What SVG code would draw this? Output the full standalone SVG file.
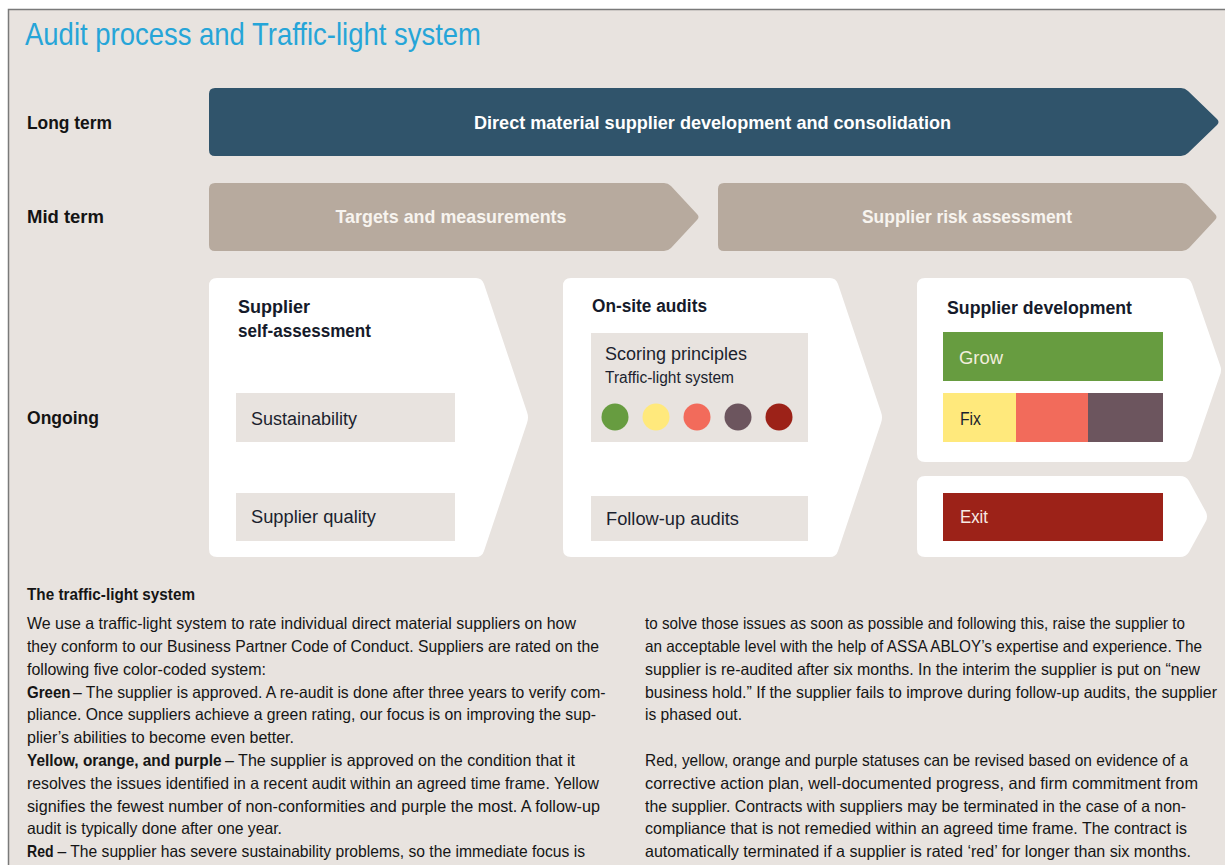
<svg xmlns="http://www.w3.org/2000/svg" width="1225" height="865" viewBox="0 0 1225 865">
  <style>
    text { font-family: "Liberation Sans", Arial, sans-serif; }
    .title { font-size: 32px; fill: #26a5d8; }
    .row { font-size: 18px; font-weight: bold; fill: #141414; }
    .bar { font-size: 19px; font-weight: bold; fill: #ffffff; text-anchor: middle; }
    .midbar { font-size: 19px; font-weight: bold; fill: #f7f4ef; text-anchor: middle; }
    .head { font-size: 18px; font-weight: bold; fill: #151a2a; }
    .item { font-size: 18px; fill: #1b1f2e; }
    .small { font-size: 16px; fill: #1b1f2e; }
    .body { font-size: 16.5px; fill: #151515; }
    .bodyb { font-size: 16.5px; font-weight: bold; fill: #151515; }
    .panel { fill: #ffffff; }
    .cell { fill: #e8e3df; }
  </style>

  <!-- page frame -->
  <rect x="0" y="0" width="1225" height="865" fill="#ffffff"/>
  <rect x="8.5" y="9.5" width="1230" height="870" fill="#e8e3df" stroke="#7a7a7a" stroke-width="1.5"/>

  <text id="title" class="title" x="25" y="45" textLength="456" lengthAdjust="spacingAndGlyphs">Audit process and Traffic-light system</text>

  <!-- row labels -->
  <g id="row-labels">
    <text class="row" x="27" y="129" textLength="85" lengthAdjust="spacingAndGlyphs">Long term</text>
    <text class="row" x="27" y="223" textLength="77" lengthAdjust="spacingAndGlyphs">Mid term</text>
    <text class="row" x="27" y="424" textLength="72" lengthAdjust="spacingAndGlyphs">Ongoing</text>
  </g>

  <!-- long term -->
  <g id="long-term">
    <path d="M215,88 L1181,88 Q1185,88 1188,91 L1217,119 Q1220,122 1217,125 L1188,153 Q1185,156 1181,156 L215,156 Q209,156 209,150 L209,94 Q209,88 215,88 Z" fill="#30546b"/>
    <text class="bar" x="712.5" y="129" textLength="477" lengthAdjust="spacingAndGlyphs">Direct material supplier development and consolidation</text>
  </g>

  <!-- mid term -->
  <g id="targets">
    <path d="M215,183 L664,183 Q668,183 671,186 L697,214 Q700,217 697,220 L671,248 Q668,251 664,251 L215,251 Q209,251 209,245 L209,189 Q209,183 215,183 Z" fill="#b7aa9e"/>
    <text class="midbar" x="451" y="223" textLength="231" lengthAdjust="spacingAndGlyphs">Targets and measurements</text>
  </g>
  <g id="risk-assessment">
    <path d="M724,183 L1182,183 Q1186,183 1189,186 L1215,214 Q1218,217 1215,220 L1189,248 Q1186,251 1182,251 L724,251 Q718,251 718,245 L718,189 Q718,183 724,183 Z" fill="#b7aa9e"/>
    <text class="midbar" x="967" y="223" textLength="210" lengthAdjust="spacingAndGlyphs">Supplier risk assessment</text>
  </g>

  <!-- ongoing: self-assessment -->
  <g id="self-assessment">
    <path class="panel" d="M217,278 L476,278 Q482,278 484,284 L527,412 Q529,417.5 527,423 L484,551 Q482,557 476,557 L217,557 Q209,557 209,549 L209,286 Q209,278 217,278 Z"/>
    <text class="head" x="238" y="313" textLength="72" lengthAdjust="spacingAndGlyphs">Supplier</text>
    <text class="head" x="238" y="337" textLength="133" lengthAdjust="spacingAndGlyphs">self-assessment</text>
    <rect class="cell" x="236" y="393" width="219" height="49"/>
    <text class="item" x="251" y="425" textLength="106" lengthAdjust="spacingAndGlyphs">Sustainability</text>
    <rect class="cell" x="236" y="493" width="219" height="48"/>
    <text class="item" x="251" y="523" textLength="125" lengthAdjust="spacingAndGlyphs">Supplier quality</text>
  </g>

  <!-- ongoing: on-site audits -->
  <g id="on-site-audits">
    <path class="panel" d="M571,278 L830,278 Q836,278 838,284 L881,412 Q883,417.5 881,423 L838,551 Q836,557 830,557 L571,557 Q563,557 563,549 L563,286 Q563,278 571,278 Z"/>
    <text class="head" x="592" y="312" textLength="115" lengthAdjust="spacingAndGlyphs">On-site audits</text>
    <rect class="cell" x="591" y="333" width="217" height="109"/>
    <text class="item" x="605" y="360" textLength="142" lengthAdjust="spacingAndGlyphs">Scoring principles</text>
    <text class="small" x="605" y="383" textLength="129" lengthAdjust="spacingAndGlyphs">Traffic-light system</text>
    <circle cx="615" cy="417" r="13.5" fill="#679c40"/>
    <circle cx="656" cy="417" r="13.5" fill="#ffe97c"/>
    <circle cx="697" cy="417" r="13.5" fill="#f26b5b"/>
    <circle cx="738" cy="417" r="13.5" fill="#6c555e"/>
    <circle cx="779" cy="417" r="13.5" fill="#9c2218"/>
    <rect class="cell" x="591" y="496" width="217" height="45"/>
    <text class="item" x="606" y="525" textLength="133" lengthAdjust="spacingAndGlyphs">Follow-up audits</text>
  </g>

  <!-- ongoing: supplier development -->
  <g id="supplier-development">
    <path class="panel" d="M925,278 L1184,278 Q1190,278 1192,284 L1220,365 Q1222,370 1220,375 L1192,456 Q1190,462 1184,462 L925,462 Q917,462 917,454 L917,286 Q917,278 925,278 Z"/>
    <text class="head" x="947" y="314" textLength="185" lengthAdjust="spacingAndGlyphs">Supplier development</text>
    <rect x="943" y="332" width="220" height="49" fill="#679c40"/>
    <text class="item" x="959" y="364" textLength="44" lengthAdjust="spacingAndGlyphs" style="fill:#f2eedc">Grow</text>
    <rect x="943" y="393" width="73" height="49" fill="#ffe97c"/>
    <rect x="1016" y="393" width="72" height="49" fill="#f26b5b"/>
    <rect x="1088" y="393" width="75" height="49" fill="#6c555e"/>
    <text class="item" x="960" y="425" textLength="21" lengthAdjust="spacingAndGlyphs">Fix</text>
  </g>

  <!-- ongoing: exit -->
  <g id="exit">
    <path class="panel" d="M925,476 L1180,476 Q1186,476 1189,481 L1206,512 Q1208,516.5 1206,521 L1189,552 Q1186,557 1180,557 L925,557 Q917,557 917,549 L917,484 Q917,476 925,476 Z"/>
    <rect x="943" y="493" width="220" height="48" fill="#9c2218"/>
    <text class="item" x="960" y="523" textLength="28" lengthAdjust="spacingAndGlyphs" style="fill:#f7ebe4">Exit</text>
  </g>

  <!-- explanatory text, left column -->
  <g id="legend-left">
    <text class="bodyb" x="27" y="600" textLength="168" lengthAdjust="spacingAndGlyphs">The traffic-light system</text>
    <text class="body" x="27" y="629" textLength="549" lengthAdjust="spacingAndGlyphs">We use a traffic-light system to rate individual direct material suppliers on how</text>
    <text class="body" x="27" y="652" textLength="572" lengthAdjust="spacingAndGlyphs">they conform to our Business Partner Code of Conduct. Suppliers are rated on the</text>
    <text class="body" x="27" y="675" textLength="239" lengthAdjust="spacingAndGlyphs">following five color-coded system:</text>
    <text class="bodyb" x="27" y="698" textLength="43.5" lengthAdjust="spacingAndGlyphs">Green</text>
    <text class="body" x="73" y="698" textLength="532.5" lengthAdjust="spacingAndGlyphs">– The supplier is approved. A re-audit is done after three years to verify com-</text>
    <text class="body" x="27" y="720" textLength="569" lengthAdjust="spacingAndGlyphs">pliance. Once suppliers achieve a green rating, our focus is on improving the sup-</text>
    <text class="body" x="27" y="743" textLength="267" lengthAdjust="spacingAndGlyphs">plier’s abilities to become even better.</text>
    <text class="bodyb" x="27" y="766" textLength="194.5" lengthAdjust="spacingAndGlyphs">Yellow, orange, and purple</text>
    <text class="body" x="225" y="766" textLength="350" lengthAdjust="spacingAndGlyphs">– The supplier is approved on the condition that it</text>
    <text class="body" x="27" y="789" textLength="572" lengthAdjust="spacingAndGlyphs">resolves the issues identified in a recent audit within an agreed time frame. Yellow</text>
    <text class="body" x="27" y="812" textLength="573" lengthAdjust="spacingAndGlyphs">signifies the fewest number of non-conformities and purple the most. A follow-up</text>
    <text class="body" x="27" y="834" textLength="255" lengthAdjust="spacingAndGlyphs">audit is typically done after one year.</text>
    <text class="bodyb" x="27" y="857" textLength="26.5" lengthAdjust="spacingAndGlyphs">Red</text>
    <text class="body" x="57.5" y="857" textLength="527.5" lengthAdjust="spacingAndGlyphs">– The supplier has severe sustainability problems, so the immediate focus is</text>
  </g>

  <!-- explanatory text, right column -->
  <g id="legend-right">
    <text class="body" x="645" y="629" textLength="540" lengthAdjust="spacingAndGlyphs">to solve those issues as soon as possible and following this, raise the supplier to</text>
    <text class="body" x="645" y="652" textLength="557" lengthAdjust="spacingAndGlyphs">an acceptable level with the help of ASSA ABLOY’s expertise and experience. The</text>
    <text class="body" x="645" y="675" textLength="555" lengthAdjust="spacingAndGlyphs">supplier is re-audited after six months. In the interim the supplier is put on “new</text>
    <text class="body" x="645" y="698" textLength="572" lengthAdjust="spacingAndGlyphs">business hold.” If the supplier fails to improve during follow-up audits, the supplier</text>
    <text class="body" x="645" y="720" textLength="97" lengthAdjust="spacingAndGlyphs">is phased out.</text>
    <text class="body" x="645" y="766" textLength="543" lengthAdjust="spacingAndGlyphs">Red, yellow, orange and purple statuses can be revised based on evidence of a</text>
    <text class="body" x="645" y="789" textLength="553" lengthAdjust="spacingAndGlyphs">corrective action plan, well-documented progress, and firm commitment from</text>
    <text class="body" x="645" y="812" textLength="541" lengthAdjust="spacingAndGlyphs">the supplier. Contracts with suppliers may be terminated in the case of a non-</text>
    <text class="body" x="645" y="834" textLength="542" lengthAdjust="spacingAndGlyphs">compliance that is not remedied within an agreed time frame. The contract is</text>
    <text class="body" x="645" y="857" textLength="546" lengthAdjust="spacingAndGlyphs">automatically terminated if a supplier is rated ‘red’ for longer than six months.</text>
  </g>
</svg>
